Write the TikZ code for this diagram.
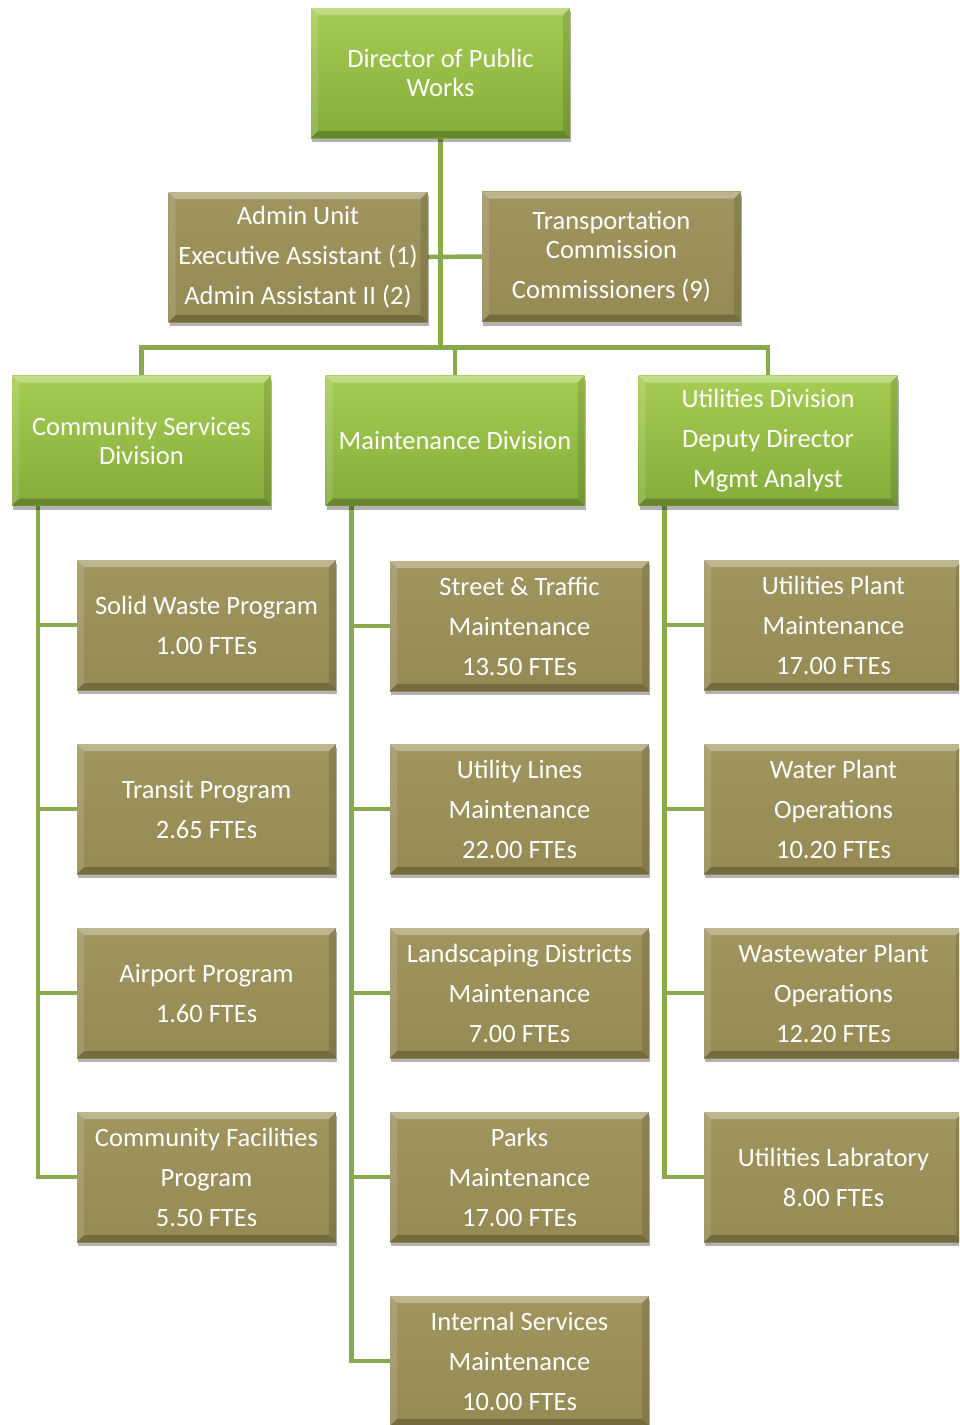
\documentclass[tikz,border=0pt]{standalone}
\usepackage{fontspec}
\setmainfont{Carlito}
\usetikzlibrary{shadows,backgrounds}
\definecolor{lineg}{HTML}{88AA4C}
\definecolor{gtop}{HTML}{A6CD52}
\definecolor{gbot}{HTML}{84AC3A}
\definecolor{otop}{HTML}{A0955F}
\definecolor{obot}{HTML}{958A54}
\tikzset{
  bx/.style={minimum width=259pt, minimum height=130pt, inner sep=0pt, align=center,
    text=white, font=\fontsize{26.5}{29}\selectfont,
    drop shadow={shadow xshift=1pt, shadow yshift=-4pt, opacity=0.3, fill=black},
    path picture={
      \fill[white,opacity=0.30] (path picture bounding box.north west) -- (path picture bounding box.north east)
        -- ([shift={(-7pt,-7pt)}]path picture bounding box.north east) -- ([shift={(7pt,-7pt)}]path picture bounding box.north west) -- cycle;
      \fill[white,opacity=0.12] (path picture bounding box.north west) -- ([shift={(7pt,-7pt)}]path picture bounding box.north west)
        -- ([shift={(7pt,7pt)}]path picture bounding box.south west) -- (path picture bounding box.south west) -- cycle;
      \fill[black,opacity=0.22] (path picture bounding box.south west) -- (path picture bounding box.south east)
        -- ([shift={(-7pt,7pt)}]path picture bounding box.south east) -- ([shift={(7pt,7pt)}]path picture bounding box.south west) -- cycle;
      \fill[black,opacity=0.12] (path picture bounding box.north east) -- ([shift={(-7pt,-7pt)}]path picture bounding box.north east)
        -- ([shift={(-7pt,7pt)}]path picture bounding box.south east) -- (path picture bounding box.south east) -- cycle;
    }},
  grn/.style={bx, top color=gtop, bottom color=gbot},
  olv/.style={bx, top color=otop, bottom color=obot},
  conn/.style={draw=lineg, line width=4.5pt}
}
\begin{document}
\begin{tikzpicture}[x=1pt,y=-1pt]
\useasboundingbox (0,0) rectangle (959,1425);
\begin{scope}
\clip (0,0) rectangle (959,1425);
% top
\node[grn] (dir) at (440.5,73) {Director of Public\\Works};
\node[olv] (au) at (298,257) {Admin Unit\\[11pt]Executive Assistant (1)\\[11pt]Admin Assistant II (2)};
\node[olv] (tc) at (611.5,256.5) {Transportation\\Commission\\[11pt]Commissioners (9)};
% divisions
\node[grn] (csd) at (141.5,440.5) {Community Services\\Division};
\node[grn] (md) at (455,440.5) {Maintenance Division};
\node[grn] (ud) at (768,440.5) {Utilities Division\\[11pt]Deputy Director\\[11pt]Mgmt Analyst};
% left column
\node[olv] (sw) at (206.5,625) {Solid Waste Program\\[11pt]1.00 FTEs};
\node[olv] (tp) at (206.5,809) {Transit Program\\[11pt]2.65 FTEs};
\node[olv] (ap) at (206.5,993) {Airport Program\\[11pt]1.60 FTEs};
\node[olv] (cf) at (206.5,1177) {Community Facilities\\[11pt]Program\\[11pt]5.50 FTEs};
% middle column
\node[olv] (st) at (519.5,626) {Street \& Traffic\\[11pt]Maintenance\\[11pt]13.50 FTEs};
\node[olv] (ul) at (519.5,809) {Utility Lines\\[11pt]Maintenance\\[11pt]22.00 FTEs};
\node[olv] (ld) at (519.5,993) {Landscaping Districts\\[11pt]Maintenance\\[11pt]7.00 FTEs};
\node[olv] (pk) at (519.5,1177) {Parks\\[11pt]Maintenance\\[11pt]17.00 FTEs};
\node[olv] (is) at (519.5,1361) {Internal Services\\[11pt]Maintenance\\[11pt]10.00 FTEs};
% right column
\node[olv] (up) at (833.5,625) {Utilities Plant\\[11pt]Maintenance\\[11pt]17.00 FTEs};
\node[olv] (wp) at (833.5,809) {Water Plant\\[11pt]Operations\\[11pt]10.20 FTEs};
\node[olv] (ww) at (833.5,993) {Wastewater Plant\\[11pt]Operations\\[11pt]12.20 FTEs};
\node[olv] (lab) at (833.5,1177) {Utilities Labratory\\[11pt]8.00 FTEs};
\end{scope}
\begin{scope}[on background layer]
\coordinate (bar) at (0,347.5);
\draw[conn] (dir.south) -- (dir.south |- bar);
\draw[conn] (csd.north) -- (csd.north |- bar) -- (ud.north |- bar) -- (ud.north);
\draw[conn] (md.north) -- (md.north |- bar);
\draw[conn] (au.east) -- (tc.west);
\coordinate (csl) at ([xshift=26pt]csd.south west);
\coordinate (mdl) at ([xshift=26pt]md.south west);
\coordinate (udl) at ([xshift=26pt]ud.south west);
\draw[conn] (csl) |- (cf.west);
\foreach \n in {sw,tp,ap} \draw[conn] (csl |- \n.west) -- (\n.west);
\draw[conn] (mdl) |- (is.west);
\foreach \n in {st,ul,ld,pk} \draw[conn] (mdl |- \n.west) -- (\n.west);
\draw[conn] (udl) |- (lab.west);
\foreach \n in {up,wp,ww} \draw[conn] (udl |- \n.west) -- (\n.west);
\end{scope}
\end{tikzpicture}
\end{document}
